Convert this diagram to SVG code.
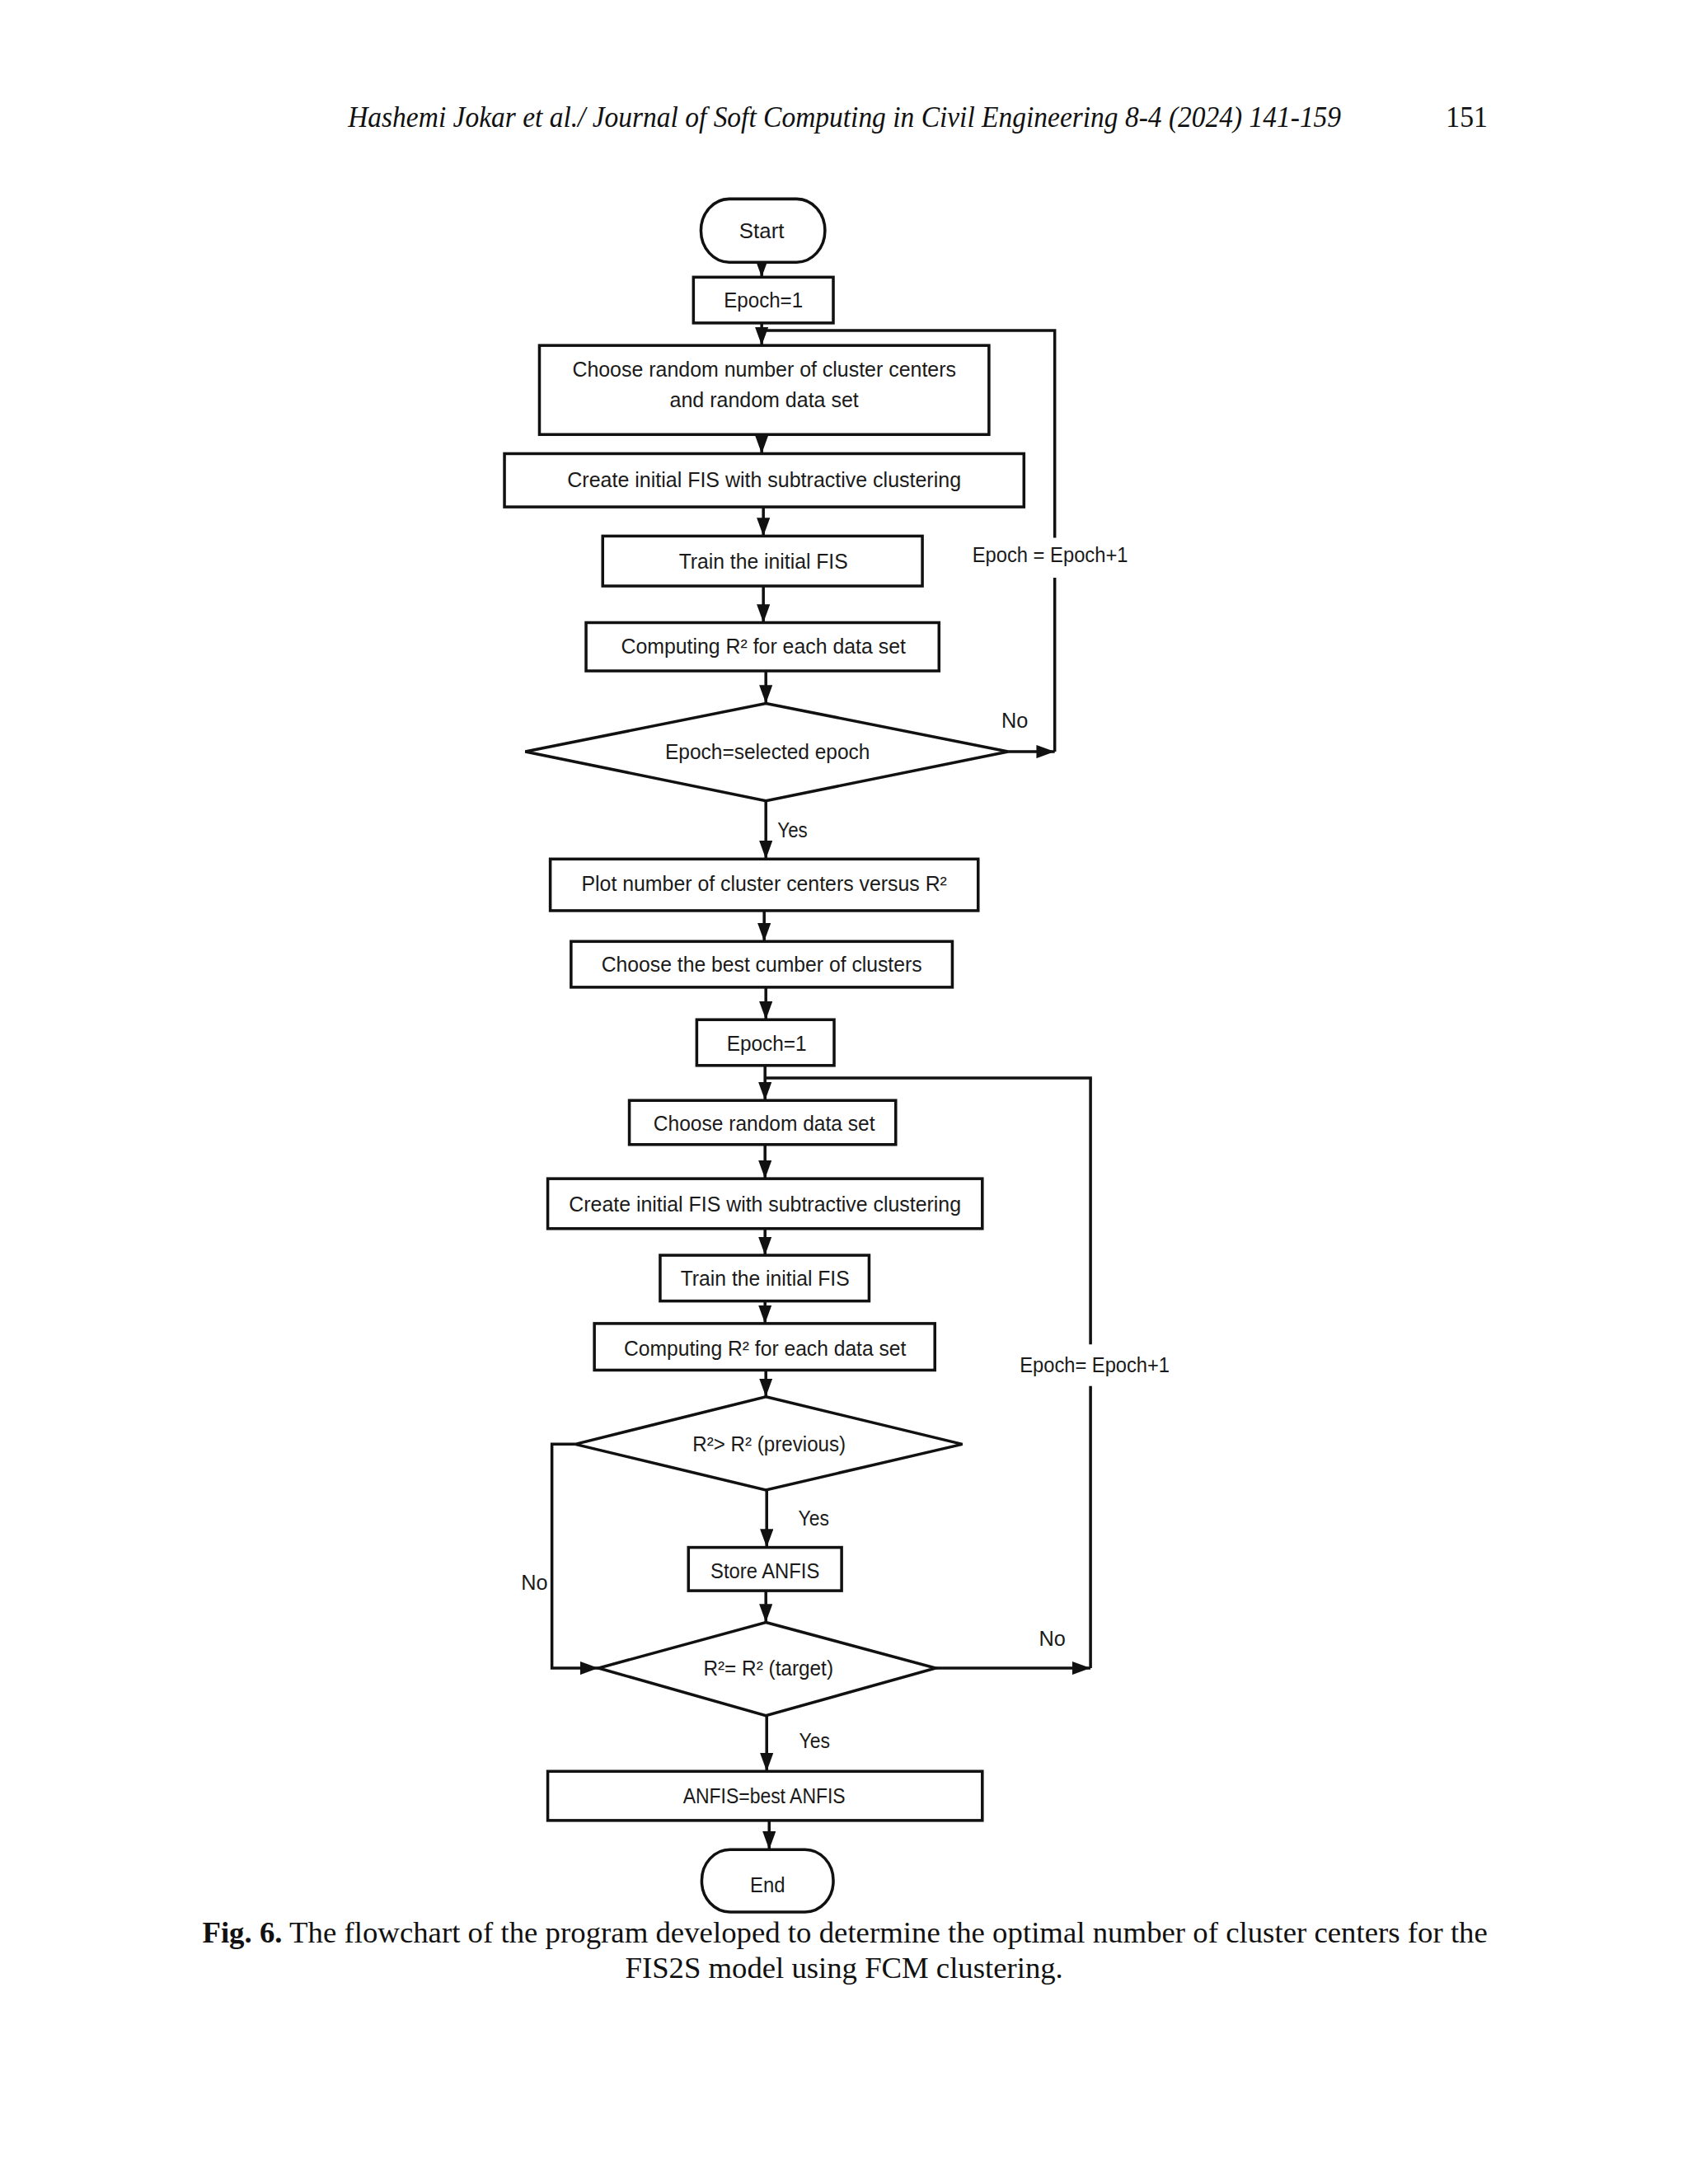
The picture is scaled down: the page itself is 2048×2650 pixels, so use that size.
<svg xmlns="http://www.w3.org/2000/svg" width="2048" height="2650" viewBox="0 0 2048 2650">
<defs>
<marker id="arr" viewBox="0 0 22 16" refX="22" refY="8" markerWidth="22" markerHeight="16" markerUnits="userSpaceOnUse" orient="auto">
<path d="M0,0 L22,8 L0,16 z" fill="#111"/>
</marker>
<style>
.box{fill:#fff;stroke:#111;stroke-width:3.5}
.t{font-family:"Liberation Sans",Arial,sans-serif;font-size:25px;fill:#1a1a1a;text-anchor:middle}
.l{font-family:"Liberation Sans",Arial,sans-serif;font-size:25px;fill:#1a1a1a}
.c{fill:none;stroke:#111;stroke-width:3.5}
.ca{fill:none;stroke:#111;stroke-width:3.5;marker-end:url(#arr)}
.hdr{font-family:"Liberation Serif","Times New Roman",serif;font-size:35px;fill:#111}
</style>
</defs>
<rect width="2048" height="2650" fill="#fff"/>
<g transform="scale(1.01)">
<text class="hdr" x="418" y="152" font-style="italic" textLength="1193" lengthAdjust="spacingAndGlyphs">Hashemi Jokar et al./ Journal of Soft Computing in Civil Engineering 8-4 (2024) 141-159</text>
<text class="hdr" x="1737" y="152" textLength="50" lengthAdjust="spacingAndGlyphs">151</text>

<g id="connectors">
<path class="ca" d="M915,315 V333"/>
<path class="ca" d="M915,388 V415"/>
<path class="ca" d="M1211,903 H1267"/>
<path class="c" d="M1267,903 V694 M1267,646 V397 H915"/>
<path class="ca" d="M915,522 V545"/>
<path class="ca" d="M917,609 V644"/>
<path class="ca" d="M917,704 V748"/>
<path class="ca" d="M920,806 V845"/>
<path class="ca" d="M920,962 V1032"/>
<path class="ca" d="M918,1094 V1131"/>
<path class="ca" d="M920,1186 V1225"/>
<path class="ca" d="M919,1280 V1322"/>
<path class="ca" d="M1124,2004 H1310"/>
<path class="c" d="M1310,2004 V1665 M1310,1615 V1295 H919"/>
<path class="ca" d="M919,1375 V1416"/>
<path class="ca" d="M919,1476 V1508"/>
<path class="ca" d="M919,1563 V1590"/>
<path class="ca" d="M920,1646 V1678"/>
<path class="ca" d="M921,1790 V1859"/>
<path class="ca" d="M691,1735 H663 V2004 H719"/>
<path class="ca" d="M920,1911 V1949"/>
<path class="ca" d="M921,2061 V2128"/>
<path class="ca" d="M924,2187 V2222"/>
<text class="l" x="1168" y="675" textLength="187" lengthAdjust="spacingAndGlyphs">Epoch = Epoch+1</text>
<text class="l" x="1203" y="874" textLength="32" lengthAdjust="spacingAndGlyphs">No</text>
<text class="l" x="934" y="1006" textLength="36" lengthAdjust="spacingAndGlyphs">Yes</text>
<text class="l" x="1225" y="1649" textLength="180" lengthAdjust="spacingAndGlyphs">Epoch= Epoch+1</text>
<text class="l" x="959" y="1833" textLength="37" lengthAdjust="spacingAndGlyphs">Yes</text>
<text class="l" x="626" y="1910" textLength="32" lengthAdjust="spacingAndGlyphs">No</text>
<text class="l" x="1248" y="1977" textLength="32" lengthAdjust="spacingAndGlyphs">No</text>
<text class="l" x="960" y="2100" textLength="37" lengthAdjust="spacingAndGlyphs">Yes</text>
</g>

<g id="start">
<rect class="box" x="842" y="239" width="149" height="76" rx="34" ry="38"/>
<text class="t" x="915" y="286" textLength="54" lengthAdjust="spacingAndGlyphs">Start</text>
</g>
<g id="epoch1">
<rect class="box" x="833" y="333" width="168" height="55"/>
<text class="t" x="917" y="369" textLength="95" lengthAdjust="spacingAndGlyphs">Epoch=1</text>
</g>
<g id="choose-random-number">
<rect class="box" x="648" y="415" width="540" height="107"/>
<text class="t" x="918" y="452" textLength="461" lengthAdjust="spacingAndGlyphs">Choose random number of cluster centers</text>
<text class="t" x="918" y="489" textLength="227" lengthAdjust="spacingAndGlyphs">and random data set</text>
</g>
<g id="create-fis-1">
<rect class="box" x="606" y="545" width="624" height="64"/>
<text class="t" x="918" y="585" textLength="473" lengthAdjust="spacingAndGlyphs">Create initial FIS with subtractive clustering</text>
</g>
<g id="train-1">
<rect class="box" x="724" y="644" width="384" height="60"/>
<text class="t" x="917" y="683" textLength="203" lengthAdjust="spacingAndGlyphs">Train the initial FIS</text>
</g>
<g id="computing-1">
<rect class="box" x="704" y="748" width="424" height="58"/>
<text class="t" x="917" y="785" textLength="342" lengthAdjust="spacingAndGlyphs">Computing R² for each data set</text>
</g>
<g id="decision-epoch">
<polygon class="box" points="920,845 1211,903 920,962 631,903"/>
<text class="t" x="922" y="912" textLength="246" lengthAdjust="spacingAndGlyphs">Epoch=selected epoch</text>
</g>
<g id="plot">
<rect class="box" x="661" y="1032" width="514" height="62"/>
<text class="t" x="918" y="1070" textLength="439" lengthAdjust="spacingAndGlyphs">Plot number of cluster centers versus R²</text>
</g>
<g id="choose-best">
<rect class="box" x="686" y="1131" width="458" height="55"/>
<text class="t" x="915" y="1167" textLength="385" lengthAdjust="spacingAndGlyphs">Choose the best cumber of clusters</text>
</g>
<g id="epoch1-b">
<rect class="box" x="837" y="1225" width="165" height="55"/>
<text class="t" x="921" y="1262" textLength="96" lengthAdjust="spacingAndGlyphs">Epoch=1</text>
</g>
<g id="choose-random-data">
<rect class="box" x="756" y="1322" width="320" height="53"/>
<text class="t" x="918" y="1358" textLength="266" lengthAdjust="spacingAndGlyphs">Choose random data set</text>
</g>
<g id="create-fis-2">
<rect class="box" x="658" y="1416" width="522" height="60"/>
<text class="t" x="919" y="1455" textLength="471" lengthAdjust="spacingAndGlyphs">Create initial FIS with subtractive clustering</text>
</g>
<g id="train-2">
<rect class="box" x="793" y="1508" width="251" height="55"/>
<text class="t" x="919" y="1545" textLength="203" lengthAdjust="spacingAndGlyphs">Train the initial FIS</text>
</g>
<g id="computing-2">
<rect class="box" x="714" y="1590" width="409" height="56"/>
<text class="t" x="919" y="1629" textLength="339" lengthAdjust="spacingAndGlyphs">Computing R² for each data set</text>
</g>
<g id="decision-previous">
<polygon class="box" points="920,1678 1156,1735 920,1790 691,1735"/>
<text class="t" x="924" y="1744" textLength="184" lengthAdjust="spacingAndGlyphs">R²&gt; R² (previous)</text>
</g>
<g id="store-anfis">
<rect class="box" x="827" y="1859" width="184" height="52"/>
<text class="t" x="919" y="1896" textLength="131" lengthAdjust="spacingAndGlyphs">Store ANFIS</text>
</g>
<g id="decision-target">
<polygon class="box" points="920,1949 1124,2004 920,2061 719,2004"/>
<text class="t" x="923" y="2013" textLength="156" lengthAdjust="spacingAndGlyphs">R²= R² (target)</text>
</g>
<g id="anfis-best">
<rect class="box" x="658" y="2128" width="522" height="59"/>
<text class="t" x="918" y="2166" textLength="195" lengthAdjust="spacingAndGlyphs">ANFIS=best ANFIS</text>
</g>
<g id="end">
<rect class="box" x="843" y="2222" width="158" height="75" rx="34" ry="37"/>
<text class="t" x="922" y="2273" textLength="42" lengthAdjust="spacingAndGlyphs">End</text>
</g>

<text class="hdr" x="243" y="2334" textLength="1544" lengthAdjust="spacingAndGlyphs"><tspan font-weight="bold">Fig. 6.</tspan> The flowchart of the program developed to determine the optimal number of cluster centers for the</text>
<text class="hdr" x="751" y="2376" textLength="526" lengthAdjust="spacingAndGlyphs">FIS2S model using FCM clustering.</text>
</g>
</svg>
